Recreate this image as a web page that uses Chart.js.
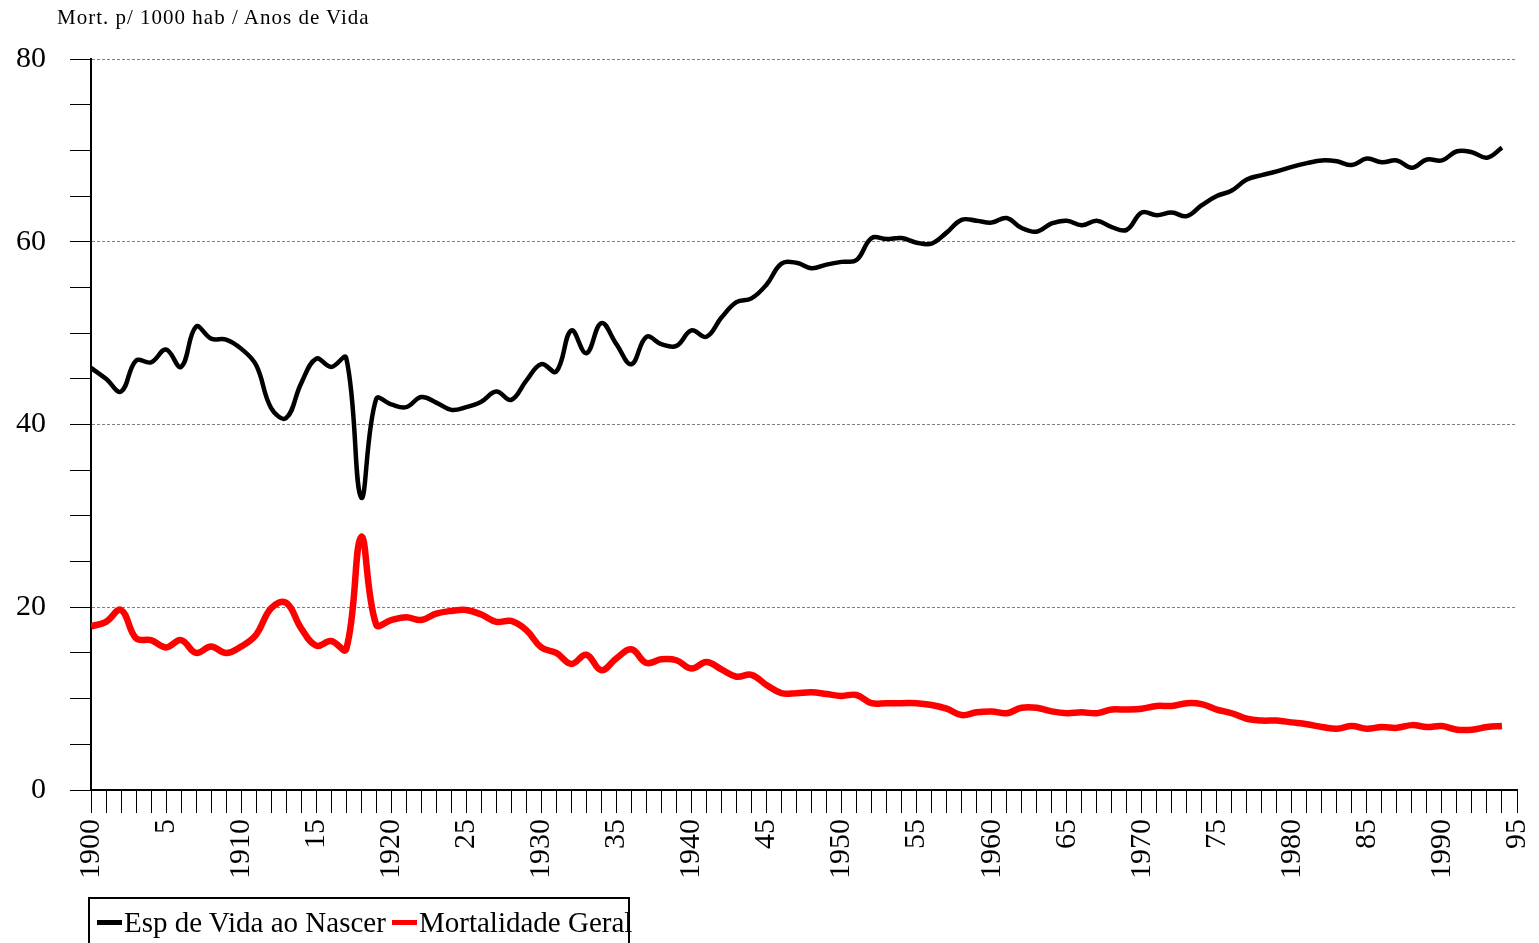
<!DOCTYPE html>
<html>
<head>
  <title>Mortalidade Geral e Esperança de Vida</title>
  <script src="https://cdn.jsdelivr.net/npm/chart.js"></script>
  <style>
    html, body { margin: 0; padding: 0; background: #fff; overflow: hidden; }
    #wrap { position: relative; width: 1539px; height: 943px; }
    #chartCanvas { position: absolute; left: 0; top: 0; }
    #title {
      position: absolute; left: 57px; top: 5px;
      font: 21px "Liberation Serif", "Times New Roman", serif;
      letter-spacing: 1px; color: #000; white-space: nowrap;
    }
    #legend {
      position: absolute; left: 88px; top: 897px; width: 538px; height: 70px;
      border: 2px solid #000; background: #fff;
      font: 29px "Liberation Serif", "Times New Roman", serif; color: #000;
      white-space: nowrap;
    }
    #legend span.item { position: absolute; top: 7px; }
    #legend span.mark { display: inline-block; width: 25px; height: 5px; vertical-align: middle; margin-right: 2px; position: relative; top: -3px; }
  </style>
</head>
<body>
<div id="wrap">
  <canvas id="chartCanvas" width="1539" height="943"></canvas>
  <div id="title">Mort. p/ 1000 hab / Anos de Vida</div>
  <div id="legend"></div>
</div>

<script>
  // years 1900..1994
  const years = [
    1900,1901,1902,1903,1904,1905,1906,1907,1908,1909,
    1910,1911,1912,1913,1914,1915,1916,1917,1918,1919,
    1920,1921,1922,1923,1924,1925,1926,1927,1928,1929,
    1930,1931,1932,1933,1934,1935,1936,1937,1938,1939,
    1940,1941,1942,1943,1944,1945,1946,1947,1948,1949,
    1950,1951,1952,1953,1954,1955,1956,1957,1958,1959,
    1960,1961,1962,1963,1964,1965,1966,1967,1968,1969,
    1970,1971,1972,1973,1974,1975,1976,1977,1978,1979,
    1980,1981,1982,1983,1984,1985,1986,1987,1988,1989,
    1990,1991,1992,1993,1994
  ];

  // Esp de Vida ao Nascer (anos)
  const espVida = [
    46.2,45.0,43.6,47.0,46.8,48.2,46.3,50.7,49.4,49.3,
    48.3,46.5,41.8,40.7,44.5,47.2,46.3,47.3,32.0,42.8,
    42.2,41.9,43.0,42.4,41.6,41.9,42.5,43.6,42.7,44.8,
    46.6,45.8,50.3,47.8,51.1,48.8,46.6,49.6,48.8,48.6,
    50.3,49.6,51.7,53.4,53.8,55.3,57.6,57.7,57.1,57.5,
    57.8,58.0,60.4,60.3,60.4,59.9,59.8,61.0,62.4,62.3,
    62.1,62.6,61.5,61.1,62.0,62.3,61.8,62.3,61.6,61.3,
    63.2,62.9,63.2,62.8,64.0,65.0,65.6,66.8,67.3,67.7,
    68.2,68.6,68.9,68.8,68.4,69.1,68.7,68.9,68.1,69.0,
    68.9,69.9,69.8,69.2,70.3
  ];

  // Mortalidade Geral (p/ 1000 hab)
  const mortalidade = [
    17.9,18.4,19.7,16.6,16.4,15.6,16.4,15.0,15.7,15.0,
    15.7,17.0,19.9,20.5,17.7,15.8,16.3,15.4,27.7,18.1,
    18.6,18.9,18.6,19.3,19.6,19.7,19.2,18.4,18.5,17.5,
    15.6,15.0,13.8,14.8,13.1,14.4,15.4,13.9,14.3,14.2,
    13.3,14.0,13.2,12.4,12.6,11.5,10.6,10.6,10.7,10.5,
    10.3,10.4,9.5,9.5,9.5,9.5,9.3,8.9,8.2,8.5,
    8.6,8.4,9.0,9.0,8.6,8.4,8.5,8.4,8.8,8.8,
    8.9,9.2,9.2,9.5,9.4,8.8,8.4,7.8,7.6,7.6,
    7.4,7.2,6.9,6.7,7.0,6.7,6.9,6.8,7.1,6.9,
    7.0,6.6,6.6,6.9,7.0
  ];

  const xTickLabels = ['1900','5','1910','15','1920','25','1930','35','1940','45',
                       '1950','55','1960','65','1970','75','1980','85','1990','95'];
  const yTickLabels = [0, 20, 40, 60, 80];

  const seriesNames = ['Esp de Vida ao Nascer', 'Mortalidade Geral'];
  const seriesColors = ['#000000', '#ff0000'];

  const serif = '"Liberation Serif", "Times New Roman", serif';

  function toPoints(vals) {
    return vals.map((v, i) => ({ x: years[i], y: v }));
  }

  const ctx = document.getElementById('chartCanvas').getContext('2d');
  new Chart(ctx, {
    type: 'line',
    data: {
      datasets: [
        {
          label: seriesNames[0],
          data: toPoints(espVida),
          borderColor: seriesColors[0],
          borderWidth: 4.5,
          pointRadius: 0,
          tension: 0.4,
          fill: false
        },
        {
          label: seriesNames[1],
          data: toPoints(mortalidade),
          borderColor: seriesColors[1],
          borderWidth: 6.5,
          pointRadius: 0,
          tension: 0.4,
          fill: false
        }
      ]
    },
    options: {
      responsive: false,
      animation: false,
      layout: { padding: { left: 0, top: 59, right: 22, bottom: 0 } },
      plugins: {
        legend: { display: false },
        tooltip: { enabled: false }
      },
      scales: {
        x: {
          type: 'linear',
          min: 1900,
          max: 1995,
          afterFit: (axis) => {
            axis.height = 153;
            axis.paddingLeft = 0;
            axis.paddingRight = 0;
          },
          border: { display: true, color: '#000', width: 2 },
          grid: {
            drawOnChartArea: false,
            drawTicks: true,
            tickLength: 23,
            tickColor: '#000',
            tickWidth: 1
          },
          ticks: {
            stepSize: 1,
            autoSkip: false,
            maxRotation: 90,
            minRotation: 90,
            padding: 6,
            color: '#000',
            font: { family: serif, size: 30 },
            callback: (v) => (v % 5 === 0 ? xTickLabels[(v - 1900) / 5] : '')
          }
        },
        y: {
          min: 0,
          max: 80,
          afterFit: (axis) => {
            axis.width = 91;
            axis.paddingTop = 0;
            axis.paddingBottom = 0;
          },
          border: { display: true, color: '#000', width: 2, dash: [3, 2] },
          grid: {
            drawTicks: true,
            tickLength: 21,
            tickColor: '#000',
            tickWidth: 1,
            tickBorderDash: [],
            lineWidth: 1,
            color: (c) => (c.tick && c.tick.value > 0 && yTickLabels.includes(c.tick.value)) ? '#808080' : 'rgba(0,0,0,0)'
          },
          ticks: {
            stepSize: 5,
            padding: 24,
            color: '#000',
            font: { family: serif, size: 30 },
            callback: (v) => (yTickLabels.includes(v) ? String(v) : '')
          }
        }
      }
    }
  });

  // legend box below the axis, as in the original
  const legendEl = document.getElementById('legend');
  const itemLeft = [7, 302];
  seriesNames.forEach((name, i) => {
    const item = document.createElement('span');
    item.className = 'item';
    item.style.left = itemLeft[i] + 'px';
    const mark = document.createElement('span');
    mark.className = 'mark';
    mark.style.background = seriesColors[i];
    item.appendChild(mark);
    item.appendChild(document.createTextNode(name));
    legendEl.appendChild(item);
  });
</script>
</body>
</html>
